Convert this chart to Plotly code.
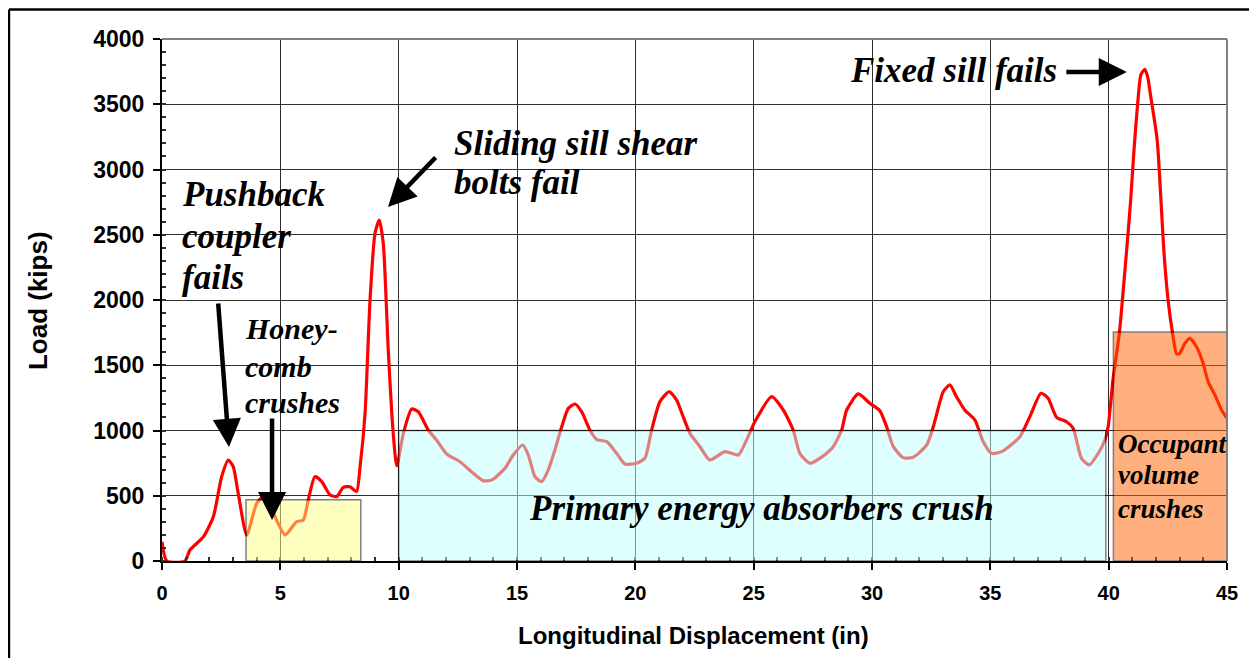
import plotly.graph_objects as go

# ---- data ----
displacement_in = [
    0.0, 0.2, 0.97, 1.18, 1.75, 2.17, 2.52, 2.8, 3.01, 3.22,
    3.58, 4.0, 4.28, 4.49, 4.84, 5.2, 5.69, 5.97, 6.18, 6.46,
    6.75, 7.1, 7.38, 7.66, 7.94, 8.22, 8.37, 8.58, 8.79, 9.0,
    9.18, 9.35, 9.56, 9.77, 9.92, 10.2, 10.55, 10.83, 11.25, 11.6,
    12.03, 12.59, 13.08, 13.57, 13.93, 14.49, 14.84, 15.24, 15.48, 15.76,
    16.04, 16.32, 16.6, 16.89, 17.17, 17.45, 17.73, 18.08, 18.36, 18.79,
    19.21, 19.56, 20.05, 20.4, 20.69, 21.04, 21.43, 21.74, 22.02, 22.31,
    22.73, 23.15, 23.79, 24.35, 24.7, 25.05, 25.76, 26.25, 26.67, 26.95,
    27.38, 27.9, 28.36, 28.72, 28.93, 29.42, 29.91, 30.33, 30.62, 30.9,
    31.32, 31.74, 32.31, 32.59, 33.01, 33.29, 33.57, 33.92, 34.35, 34.7,
    35.05, 35.48, 36.25, 36.67, 37.14, 37.44, 37.8, 38.22, 38.5, 38.85,
    39.18, 39.56, 39.84, 39.98, 40.18, 40.45, 40.76, 40.93, 41.07, 41.25,
    41.36, 41.53, 41.66, 41.76, 42.05, 42.21, 42.33, 42.51, 42.7,
    42.87, 43.0, 43.22, 43.43, 43.71, 43.99, 44.2, 44.49, 44.77, 45.0,
]
load_kips = [
    148, 0, 0, 84, 186, 340, 646, 774, 723, 519,
    199, 442, 493, 467, 314, 199, 301, 314, 467, 646,
    608, 506, 493, 565, 569, 531, 723, 1132, 2000, 2511,
    2613, 2434, 1617, 978, 728, 978, 1165, 1144, 1004, 927,
    820, 761, 684, 615, 621, 710, 812, 889, 812, 646,
    608, 697, 851, 1029, 1170, 1203, 1144, 1004, 932, 914,
    825, 743, 749, 787, 1004, 1221, 1297, 1234, 1106, 978,
    876, 774, 838, 812, 927, 1067, 1259, 1157, 1004, 825,
    749, 800, 876, 1004, 1157, 1280, 1208, 1152, 1029, 876,
    792, 795, 889, 1029, 1297, 1349, 1259, 1157, 1080, 914,
    825, 838, 953, 1106, 1285, 1247, 1101, 1067, 1017, 787,
    736, 825, 927, 1030, 1387, 1745, 2383, 2766, 3149, 3558,
    3725, 3768, 3700, 3580, 3226, 2766, 2383, 2000, 1745,
    1586, 1591, 1668, 1706, 1642, 1515, 1374, 1272, 1157, 1093,
]

# crush zones: start / end displacement and load height
zone_names = ["Honeycomb", "Primary energy absorbers", "Occupant volume"]
zone_start = [3.55, 10.0, 40.2]
zone_end = [8.4, 39.88, 45.0]
zone_top = [470, 1000, 1755]

x_ticks = [0, 5, 10, 15, 20, 25, 30, 35, 40, 45]
y_ticks = [0, 500, 1000, 1500, 2000, 2500, 3000, 3500, 4000]

# ---- styling ----
zone_colors = ["#FFFF80", "#C0FFFF", "#FF6100"]
SERIF = "Liberation Serif"
SANS = "Liberation Sans"

fig = go.Figure()
fig.add_trace(go.Scatter(
    x=displacement_in, y=load_kips, mode="lines",
    line=dict(color="#FF0000", width=3.2, shape="spline", smoothing=0.6),
    hoverinfo="skip", showlegend=False,
))

shapes = []
for x0, x1, y1, c in zip(zone_start, zone_end, zone_top, zone_colors):
    shapes.append(dict(type="rect", xref="x", yref="y", x0=x0, x1=x1, y0=0, y1=y1,
                       fillcolor=c, opacity=0.5, layer="above",
                       line=dict(color="black", width=1.5)))
# gray plot-area border (top / right)
shapes.append(dict(type="line", xref="paper", yref="paper", x0=0, x1=1, y0=1, y1=1,
                   line=dict(color="#808080", width=2), layer="above"))
shapes.append(dict(type="line", xref="paper", yref="paper", x0=1, x1=1, y0=0, y1=1,
                   line=dict(color="#808080", width=2), layer="above"))
# outer black frame (only its top and left sides are visible in the reference)
shapes.append(dict(type="line", xref="paper", yref="paper",
                   x0=-0.1437, x1=1.2, y0=1.0565, y1=1.0565,
                   line=dict(color="black", width=2.5), layer="above"))
shapes.append(dict(type="line", xref="paper", yref="paper",
                   x0=-0.1437, x1=-0.1437, y0=-0.4, y1=1.0565,
                   line=dict(color="black", width=2.5), layer="above"))

annotations = []
# text labels: (text, x, y, size)
labels = [
    ("Pushback", 0.76, 2805, 35),
    ("coupler", 0.76, 2483, 35),
    ("fails", 0.76, 2176, 35),
    ("Honey-", 3.42, 1778, 30),
    ("comb", 3.42, 1487, 30),
    ("crushes", 3.42, 1218, 30),
    ("Sliding sill shear", 12.25, 3203, 35),
    ("bolts fail", 12.25, 2897, 35),
    ("Fixed sill fails", 28.98, 3762, 35),
    ("Primary energy absorbers crush", 15.42, 406, 35),
    ("Occupant", 40.3, 897, 27),
    ("volume", 40.3, 659, 27),
    ("crushes", 40.3, 398, 27),
]
for t, x, y, s in labels:
    annotations.append(dict(text=f"<b><i>{t}</i></b>", x=x, y=y, xref="x", yref="y",
                            xanchor="left", yanchor="middle", showarrow=False,
                            font=dict(family=SERIF, size=s, color="black")))

# arrows: (tail x, tail y, tip x, tip y)
arrows = [
    (2.37, 1985, 2.83, 874),
    (4.65, 1103, 4.65, 314),
    (11.62, 3103, 9.55, 2713),
    (38.15, 3747, 40.77, 3747),
]
for ax, ay, x, y in arrows:
    annotations.append(dict(text="", x=x, y=y, ax=ax, ay=ay, xref="x", yref="y",
                            axref="x", ayref="y", showarrow=True, arrowhead=2,
                            arrowsize=1.25, arrowwidth=4.5, arrowcolor="black"))

# axis titles
annotations.append(dict(text="<b>Longitudinal Displacement (in)</b>", xref="paper", yref="paper",
                        x=0.4986, y=-0.1418, showarrow=False, xanchor="center", yanchor="middle",
                        font=dict(family=SANS, size=24, color="black")))
annotations.append(dict(text="<b>Load (kips)</b>", xref="paper", yref="paper",
                        x=-0.1164, y=0.498, showarrow=False, xanchor="center", yanchor="middle",
                        textangle=-90, font=dict(family=SANS, size=26, color="black")))

fig.update_layout(
    width=1241, height=650,
    margin=dict(l=154, r=22, t=31, b=97),
    paper_bgcolor="white", plot_bgcolor="white",
    shapes=shapes, annotations=annotations,
    showlegend=False,
)
fig.update_xaxes(
    range=[0, 45], tickvals=x_ticks, ticktext=[str(v) for v in x_ticks],
    showline=True, linecolor="black", linewidth=2,
    ticks="outside", ticklen=7, tickwidth=1.5, tickcolor="black",
    tickfont=dict(family=SANS, size=20, color="black", weight="bold"),
    ticklabelstandoff=6,
    showgrid=True, gridcolor="#303030", gridwidth=1, zeroline=False,
    minor=dict(dtick=1, ticks="inside", ticklen=4, tickcolor="#303030", showgrid=False),
)
fig.update_yaxes(
    range=[0, 4000], tickvals=y_ticks, ticktext=[str(v) for v in y_ticks],
    showline=True, linecolor="black", linewidth=2,
    ticks="outside", ticklen=7, tickwidth=1.5, tickcolor="black",
    tickfont=dict(family=SANS, size=23, color="black", weight="bold"),
    ticklabelstandoff=4,
    showgrid=True, gridcolor="#303030", gridwidth=1, zeroline=False,
    minor=dict(dtick=100, ticks="inside", ticklen=4, tickcolor="#303030", showgrid=False),
)

fig.write_html("out.html")
